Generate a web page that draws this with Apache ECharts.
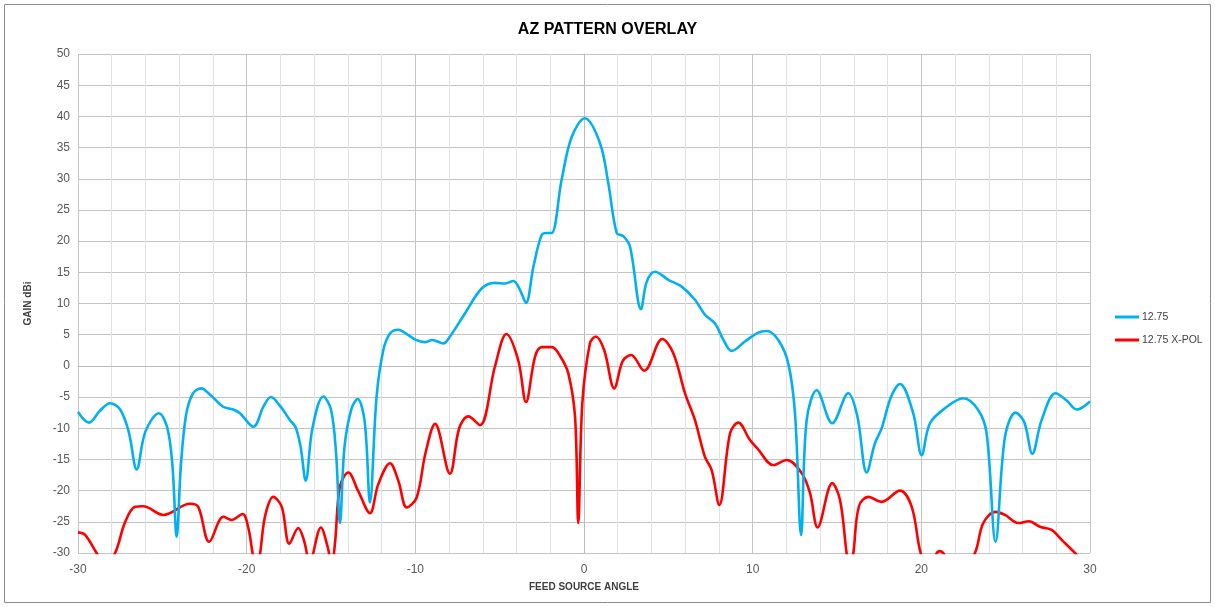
<!DOCTYPE html>
<html>
<head>
<meta charset="utf-8">
<title>AZ PATTERN OVERLAY</title>
<script src="https://cdn.jsdelivr.net/npm/echarts@6/dist/echarts.min.js"></script>
<style>
  html, body { margin: 0; padding: 0; background: #fff; }
  #chart { width: 1215px; height: 607px; }
</style>
</head>
<body>
<div id="chart"></div>
<script>
// feed source angle (deg) / gain (dBi)
var coAngle = [-30, -29.35, -28.7, -28.1, -27.5, -27.0, -26.52, -26.0, -25.2, -24.7, -24.4, -24.15, -23.9, -23.6, -23.2, -22.7,
    -22.1, -21.4, -20.8, -20.4, -19.6, -19.0, -18.56, -18.0, -17.43, -17.1, -16.8, -16.5, -16.1, -15.46, -15.0, -14.7,
    -14.47, -14.2, -13.8, -13.42, -13.0, -12.69, -12.3, -11.9, -11.5, -11.0, -10.5, -10.0, -9.43, -9.0, -8.34, -7.95,
    -7.06, -6.07, -5.28, -4.68, -4.19, -3.8, -3.44, -3.0, -2.51, -2.2, -1.92, -1.33, -0.73, 0.05, 0.95, 1.44,
    1.94, 2.33, 2.73, 3.38, 3.72, 4.21, 5.0, 5.79, 6.58, 7.17, 7.77, 8.26, 8.76, 9.54, 10.3, 10.83,
    11.52, 12.11, 12.51, 12.87, 13.2, 13.8, 14.72, 15.67, 16.2, 16.76, 17.25, 17.65, 18.2, 18.73, 19.52, 20.02,
    20.51, 21.4, 22.49, 23.38, 23.87, 24.4, 24.96, 25.59, 26.1, 26.58, 27.13, 27.96, 28.6, 29.21, 30];
var coGain = [-7.4, -9.1, -7.2, -6.0, -7.0, -10.5, -16.6, -10.5, -7.6, -10.0, -16, -27.4, -16, -8, -4.5, -3.6,
    -4.8, -6.55, -7.0, -7.6, -9.75, -6.5, -5.0, -6.5, -8.7, -9.85, -13, -18.4, -10, -4.9, -7, -14,
    -25.2, -13, -7, -5.3, -9, -21.9, -5, 2.5, 5.2, 5.8, 5.1, 4.2, 3.8, 4.15, 3.6, 4.7,
    8.4, 12.4, 13.3, 13.2, 13.6, 12.2, 10.1, 15.9, 21.0, 21.3, 21.3, 29.8, 36.7, 39.7, 35.7, 29.3,
    21.3, 20.8, 19.1, 9.1, 13.5, 15.1, 13.8, 12.7, 10.6, 8.2, 6.8, 4.2, 2.4, 3.9, 5.3, 5.6,
    4.15, 0.4, -7.6, -27.1, -8.7, -3.9, -9.2, -4.4, -8, -17.1, -12.4, -10.0, -5, -2.9, -7.6, -14.3,
    -9.2, -6.8, -5.2, -7.1, -10.8, -28.2, -11.35, -7.5, -9, -14.1, -8.7, -4.4, -5.5, -7.0, -5.7];

var xpAngle = [-30, -29.58, -28.9, -28.4, -27.8, -27.2, -26.62, -26.13, -24.94, -23.36, -22.87, -22.22, -21.38, -20.89, -20.24, -19.9,
    -19.65, -19.4, -19.2, -18.9, -18.42, -17.92, -17.47, -16.94, -16.6, -16.44, -16.25, -16.05, -15.6, -15.2, -14.96, -14.75,
    -14.47, -13.97, -13.4, -12.69, -12.2, -11.5, -11.0, -10.51, -9.92, -9.4, -8.83, -7.95, -7.4, -6.86, -6.17, -5.28,
    -4.6, -3.9, -3.44, -2.9, -2.5, -1.9, -1.4, -0.93, -0.53, -0.34, -0.1, 0.35, 0.7, 1.2, 1.79, 2.3,
    2.79, 3.57, 4.64, 5.3, 5.99, 6.58, 7.17, 7.57, 8.02, 8.66, 9.15, 9.84, 10.3, 11.22, 12.02, 12.91,
    13.4, 13.85, 14.72, 15.18, 15.57, 15.77, 15.97, 16.3, 16.86, 17.65, 18.73, 19.43, 19.96, 20.5, 20.9, 21.1,
    21.35, 22.2, 23.18, 23.67, 24.4, 24.96, 25.75, 26.38, 27.03, 27.73, 28.32, 29.11, 30];
var xpGain = [-26.7, -27.1, -30, -32, -30, -25, -22.6, -22.5, -23.9, -22.1, -22.6, -28.2, -24.2, -24.7, -23.75, -26,
    -30, -33, -30, -24, -21.0, -22.6, -28.5, -26.0, -28, -30, -33, -30, -25.9, -29, -32, -28,
    -19.3, -17.1, -20, -23.6, -19, -15.6, -18.5, -22.7, -21.1, -14, -9.3, -17.3, -10, -8.1, -9.5, -0.1,
    5.1, 0.9, -5.8, 1.5, 3.0, 3.0, 1.5, -1.2, -8.2, -25.2, -6, 3.6, 4.7, 2.5, -3.6, 0.8,
    1.74, -0.77, 4.3, 2.0, -4.4, -8.7, -14.6, -16.7, -22.3, -10.8, -9.1, -11.9, -13.3, -15.9, -15.1, -17.2,
    -20.4, -25.9, -18.8, -21.5, -30, -33, -30, -22.5, -21.0, -21.8, -20.0, -22.6, -30, -33, -30.1, -29.7,
    -30.2, -34, -30, -25.2, -23.4, -23.9, -25.2, -24.9, -25.8, -26.3, -27.9, -30, -32.5];

var seriesNames = ['12.75', '12.75 X-POL'];
var seriesColors = ['#00b0f0', '#ff0000'];

function pairs(xs, ys) {
    var out = [];
    for (var i = 0; i < xs.length; i++) out.push([xs[i], ys[i]]);
    return out;
}

var chart = echarts.init(document.getElementById('chart'));
var font = "'Liberation Sans', Arial, sans-serif";

chart.setOption({
    animation: false,
    textStyle: { fontFamily: font },
    title: {
        text: 'AZ PATTERN OVERLAY',
        left: 'center',
        top: 17,
        textStyle: { fontSize: 16, fontWeight: 'bold', color: '#000', fontFamily: font }
    },
    legend: {
        orient: 'vertical',
        left: 1110,
        top: 305,
        itemWidth: 24,
        itemHeight: 3,
        itemGap: 9,
        icon: 'rect',
        data: seriesNames,
        textStyle: { fontSize: 10.5, color: '#404040', lineHeight: 14, padding: [0, 0, 0, -2] }
    },
    grid: { left: 78, right: 125, top: 54, bottom: 54 },
    xAxis: {
        type: 'value',
        min: -30,
        max: 30,
        interval: 10,
        name: 'FEED SOURCE ANGLE',
        nameLocation: 'middle',
        nameGap: 29,
        nameTextStyle: { fontSize: 10, fontWeight: 'bold', color: '#404040' },
        axisLine: { show: true, lineStyle: { color: '#bcbcbc' } },
        axisTick: { show: false },
        axisLabel: { fontSize: 12, color: '#595959', margin: 11 },
        splitLine: { show: true, lineStyle: { color: '#c4c4c4', width: 1 } },
        minorTick: { show: false, splitNumber: 5 },
        minorSplitLine: { show: true, lineStyle: { color: '#e2e2e2', width: 1 } }
    },
    yAxis: {
        type: 'value',
        min: -30,
        max: 50,
        interval: 5,
        name: 'GAIN dBi',
        nameLocation: 'middle',
        nameGap: 45,
        nameTextStyle: { fontSize: 10, fontWeight: 'bold', color: '#404040' },
        axisLine: { show: true, lineStyle: { color: '#bcbcbc' } },
        axisTick: { show: true, length: 4, lineStyle: { color: '#bcbcbc' } },
        axisLabel: { fontSize: 12, color: '#595959', margin: 8 },
        splitLine: { show: true, lineStyle: { color: '#c4c4c4', width: 1 } }
    },
    series: [
        {
            name: seriesNames[0],
            type: 'line',
            data: pairs(coAngle, coGain),
            smooth: 0.35,
            symbol: 'none',
            clip: true,
            lineStyle: { color: seriesColors[0], width: 2.6 },
            itemStyle: { color: seriesColors[0] },
            z: 3
        },
        {
            name: seriesNames[1],
            type: 'line',
            data: pairs(xpAngle, xpGain),
            smooth: 0.35,
            symbol: 'none',
            clip: true,
            lineStyle: { color: seriesColors[1], width: 2.6 },
            itemStyle: { color: seriesColors[1] },
            z: 2
        }
    ],
    graphic: [{
        type: 'rect',
        shape: { x: 4.5, y: 4.5, width: 1206, height: 598 },
        style: { fill: null, stroke: '#8c8c8c', lineWidth: 1 },
        silent: true
    }]
});
</script>
</body>
</html>
